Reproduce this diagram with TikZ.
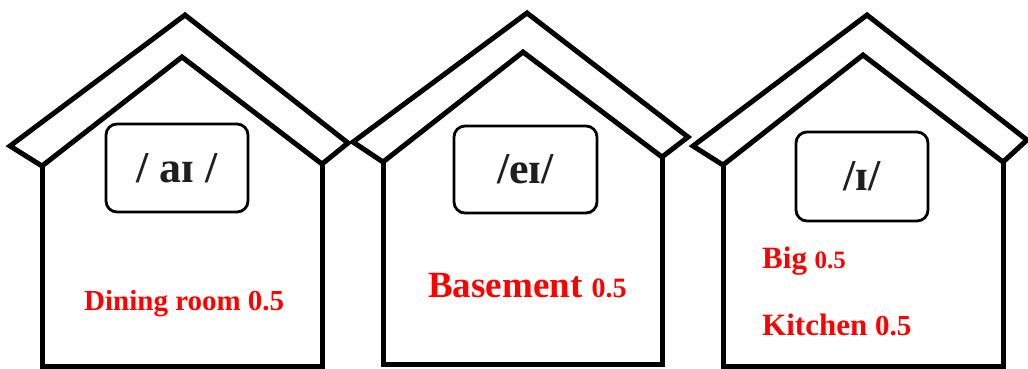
\documentclass[tikz,border=0pt]{standalone}
\usepackage{fontspec}
\setmainfont{Liberation Serif}
\usepackage{tikz}

\tikzset{
  wall/.style={line width=5pt, line join=miter},
  soundbox/.style={draw, line width=2.8pt, rounded corners=11pt, inner sep=0pt,
    font=\fontsize{44}{44}\selectfont\bfseries, text=black!88},
  answer/.style={anchor=base west, inner sep=0pt, text=red, font=\bfseries}
}

\begin{document}
\begin{tikzpicture}[x=1pt, y=-1pt]
    \useasboundingbox (0,0) rectangle (1028,368);
    % house one
    \draw [wall] (42,166) -- (10,146) -- (185,15) -- (348,143) -- (322,164);
    \draw [wall] (42,166) -- (182,57) -- (322,164);
    \draw [wall] (42,166) -- (42,366) -- (322,366) -- (322,164);
    % house two
    \draw [wall] (383,162) -- (353,142) -- (527,13) -- (688,137) -- (662,157);
    \draw [wall] (383,162) -- (523,52) -- (662,157);
    \draw [wall] (383,162) -- (383,364) -- (662,364) -- (662,157);
    % house three
    \draw [wall] (723,165) -- (693,146) -- (867,15) -- (1027,140) -- (1003,162);
    \draw [wall] (723,165) -- (863,55) -- (1003,162);
    \draw [wall] (723,165) -- (723,366) -- (1003,366) -- (1003,162);

    \node [soundbox, minimum width=142pt, minimum height=88pt] (ai) at (177,168) {/ aɪ /};
    \node [soundbox, minimum width=143pt, minimum height=87pt] (ei) at (525.5,169.5) {/eɪ/};
    \node [soundbox, minimum width=132pt, minimum height=89pt] (ii) at (862,176.5) {/ɪ/};

    \node [answer, font=\fontsize{29}{29}\selectfont\bfseries] (dining) at (84,310) {Dining room 0.5};
    \node [answer, font=\fontsize{37}{37}\selectfont\bfseries] (basement) at (428,297)
        {Basement {\fontsize{28}{28}\selectfont 0.5}};
    \node [answer, font=\fontsize{31}{31}\selectfont\bfseries] (big) at (762,268)
        {Big {\fontsize{25}{25}\selectfont 0.5}};
    \node [answer, font=\fontsize{31}{31}\selectfont\bfseries] (kitchen) at (762,335)
        {Kitchen {\fontsize{29}{29}\selectfont 0.5}};
\end{tikzpicture}
\end{document}
